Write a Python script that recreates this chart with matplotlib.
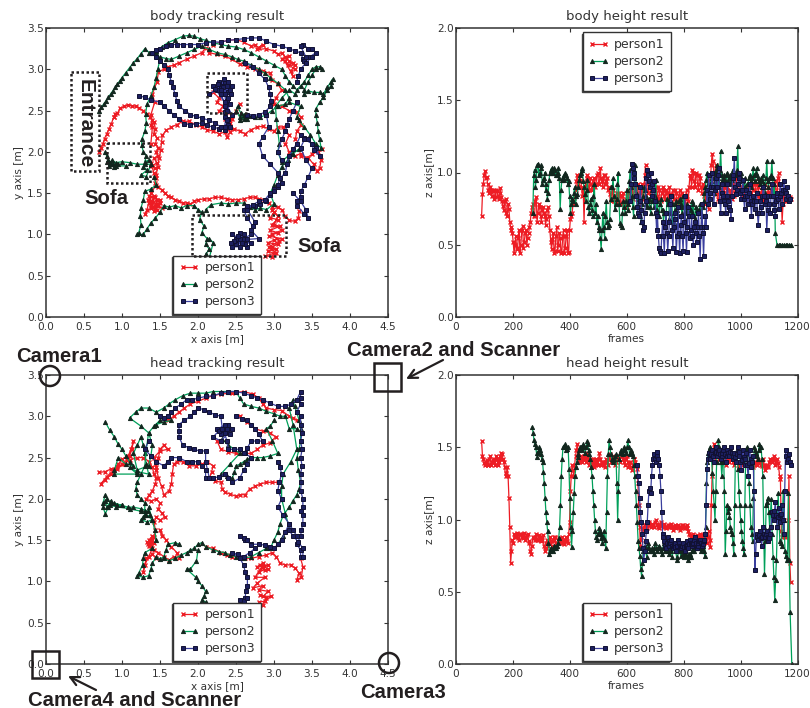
# tracking results, 4 panels

import numpy as np
import matplotlib
matplotlib.use("Agg")
import matplotlib.pyplot as plt
from matplotlib.patches import Rectangle, Circle

# ================================
# 1. Data
# ================================

names = ["person1", "person2", "person3"]

# body tracks, one list per stroke
body_p1_a = [(.70,2.0),(.72,2.05),(.75,2.1),(.77,2.16),(.80,2.22),(.83,2.28),(.86,2.34),(.89,2.42),(.91,2.46),(.90,2.42),(.94,2.47),(.98,2.53),(1.03,2.55),(1.08,2.57),(1.13,2.56),(1.18,2.55),(1.23,2.53),(1.28,2.5),(1.33,2.46),(1.37,2.42),(1.4,2.38),(1.38,2.32),(1.42,2.36),(1.44,2.28),(1.42,2.22),(1.46,2.17),(1.44,2.1),(1.48,2.05),(1.45,2.0),(1.47,1.95),(1.42,1.92),(1.46,1.87),(1.4,1.83),(1.44,1.8),(1.38,1.87),(1.42,1.74),(1.45,1.68),(1.44,1.62),(1.48,1.58),(1.52,1.54),(1.56,1.5),(1.6,1.47),(1.65,1.45),(1.7,1.42),(1.75,1.4),(1.8,1.38),(1.85,1.38),(1.9,1.37),(1.95,1.4),(2.0,1.42),(2.08,1.43),(2.15,1.43),(2.22,1.45),(2.3,1.45),(2.38,1.43),(2.45,1.42),(2.53,1.42),(2.6,1.43),(2.68,1.45),(2.75,1.45),(2.8,1.43),(2.87,1.42),(2.93,1.38),(2.98,1.33),(3.0,1.27)]
body_p1_b = [(3.0,1.27),(2.95,1.2),(3.05,1.18),(2.97,1.12),(3.08,1.1),(2.95,1.05),(3.05,1.02),(2.93,.98),(3.1,.95),(3.0,.93),(2.92,.9),(3.05,.88),(2.97,.85),(3.03,.82),(2.92,.8),(3.0,.77),(2.88,.74),(2.97,.73),(3.02,.78),(2.93,.85),(3.07,.92),(2.97,1.0),(3.1,1.05),(3.0,1.12),(3.05,1.22),(2.97,1.3),(3.05,1.33),(3.1,1.3),(3.15,1.22),(3.2,1.17),(3.27,1.16),(3.32,1.2),(3.33,1.28)]
body_p1_c = [(3.35,1.95),(3.45,1.93),(3.52,1.85),(3.56,1.77),(3.6,1.8),(3.62,1.9),(3.58,2.0),(3.63,2.03),(3.5,1.97),(3.42,1.92),(3.35,1.98),(3.28,1.95),(3.2,2.0),(3.15,2.1),(3.2,2.2),(3.12,2.3),(3.05,2.3),(3.0,2.25),(2.93,2.28),(2.85,2.31),(2.78,2.3),(2.7,2.27),(2.62,2.22),(2.55,2.25),(2.47,2.28),(2.42,2.24),(2.38,2.18),(2.35,2.24),(2.28,2.22),(2.2,2.25),(2.12,2.27),(2.05,2.3),(1.97,2.33),(1.88,2.37),(1.8,2.37),(1.72,2.33),(1.65,2.3),(1.58,2.26),(1.53,2.2),(1.52,2.12),(1.51,2.02),(1.49,1.93),(1.47,1.82),(1.45,1.72)]
body_p1_d = [(1.45,1.6),(1.38,1.5),(1.33,1.3),(1.3,1.25),(1.38,1.32),(1.34,1.42),(1.42,1.47),(1.38,1.36),(1.46,1.42),(1.42,1.28),(1.5,1.38),(1.44,1.35),(1.52,1.32),(1.4,1.4),(1.46,1.3),(1.36,1.38),(1.44,1.45),(1.48,1.34),(1.4,1.33),(1.36,1.46),(1.5,1.42)]
body_p1_e = [(1.38,2.1),(1.4,2.3),(1.38,2.45),(1.43,2.6),(1.4,2.7),(1.46,2.85),(1.48,2.97),(1.55,3.0),(1.6,3.03),(1.68,3.05),(1.75,3.08),(1.85,3.12),(1.95,3.16),(2.05,3.2),(2.1,3.26),(2.15,3.2),(2.25,3.18),(2.35,3.16),(2.45,3.12),(2.55,3.06),(2.65,3.03),(2.75,3.0),(2.85,2.98),(2.95,2.95),(2.98,2.87),(3.05,2.82),(3.1,2.75),(3.02,2.65),(3.0,2.58),(3.1,2.55),(3.2,2.5),(3.3,2.48),(3.35,2.42),(3.35,2.32),(3.3,2.25),(3.28,2.15)]
body_p1_f = [(2.2,3.3),(2.3,3.33),(2.4,3.35),(2.5,3.36),(2.6,3.33),(2.7,3.28),(2.75,3.3),(2.8,3.26),(2.85,3.3),(2.78,3.24),(2.9,3.25),(3.0,3.22),(3.05,3.18),(3.1,3.2),(3.15,3.15),(3.2,3.1),(3.25,3.08),(3.18,3.05),(3.28,3.05),(3.22,2.98),(3.25,2.92),(3.14,3.1),(3.2,3.16),(3.1,3.13),(3.27,3.0)]
body_p1_g = [(2.2,2.72),(2.28,2.65),(2.25,2.6),(2.33,2.55),(2.28,2.5),(2.38,2.48),(2.35,2.4),(2.42,2.35),(2.4,2.28),(2.45,2.4),(2.5,2.5),(2.55,2.58)]
body_p1 = [body_p1_a, body_p1_b, body_p1_c, body_p1_d, body_p1_e, body_p1_f, body_p1_g]

body_p2_a = [(.70,2.5),(.73,2.54),(.76,2.58),(.79,2.62),(.82,2.66),(.85,2.7),(.88,2.74),(.91,2.78),(.94,2.82),(.97,2.86),(1.0,2.9),(1.05,2.96),(1.1,3.02),(1.15,3.08),(1.2,3.13),(1.25,3.19),(1.3,3.25),(1.36,3.2),(1.41,3.2),(1.45,3.22),(1.5,3.12),(1.47,3.0),(1.45,2.9),(1.42,2.78),(1.38,2.68),(1.33,2.58),(1.31,2.46),(1.32,2.35),(1.3,2.25),(1.26,2.15),(1.26,2.08),(1.28,2.0),(1.32,1.95),(1.3,1.88),(1.35,1.9),(1.28,1.82),(1.33,1.78),(1.25,1.72),(1.32,1.7),(1.38,1.85),(1.3,1.85),(1.2,1.85),(1.1,1.87),(1.0,1.88),(.92,1.87),(.85,1.85),(.8,1.95),(.78,2.0),(.82,1.9),(.88,1.85),(.83,1.83),(.9,1.82),(.8,1.88),(.95,1.85),(.87,1.9),(.84,1.87),(.92,1.83),(1.05,1.83)]
body_p2_b = [(1.42,1.7),(1.45,1.6),(1.38,1.55),(1.3,1.52),(1.28,1.42),(1.25,1.32),(1.24,1.22),(1.25,1.12),(1.22,1.02),(1.2,1.0),(1.28,1.0),(1.33,1.07),(1.38,1.14),(1.44,1.2),(1.5,1.27),(1.55,1.35),(1.62,1.33),(1.7,1.35),(1.78,1.32),(1.85,1.35),(1.95,1.35),(2.0,1.3),(2.05,1.27),(2.02,1.18),(2.08,1.1),(2.05,1.02),(2.12,.95),(2.1,.88),(2.15,.82),(2.1,.76),(2.15,.72),(2.2,.9),(2.15,.95)]
body_p2_c = [(2.1,1.3),(2.17,1.36),(2.3,1.38),(2.4,1.37),(2.5,1.38),(2.6,1.38),(2.68,1.33),(2.75,1.3),(2.82,1.32),(2.9,1.3),(3.0,1.37),(2.95,1.5),(3.0,1.6),(3.05,1.72),(3.1,1.82),(3.18,1.9),(3.25,1.98),(3.33,2.03),(3.22,1.98),(3.1,1.88),(3.05,2.0),(3.07,2.1),(3.05,2.25),(3.03,2.4),(3.02,2.55),(3.1,2.65),(3.2,2.75),(3.28,2.7)]
body_p2_d = [(1.45,3.2),(1.52,3.27),(1.6,3.32),(1.7,3.36),(1.8,3.4),(1.88,3.41),(1.95,3.4),(2.03,3.37),(2.1,3.35),(2.2,3.32),(2.3,3.3),(2.4,3.28),(2.5,3.27),(2.6,3.24),(2.7,3.2),(2.8,3.15),(2.9,3.1),(3.0,3.05),(3.1,3.0),(3.15,2.92),(3.2,2.85),(3.25,2.8),(3.3,2.75),(3.35,2.8),(3.4,2.85),(3.45,2.93),(3.5,3.0),(3.55,3.03),(3.6,3.03),(3.63,3.0),(3.55,3.0),(3.5,2.93),(3.45,2.85),(3.4,2.75),(3.4,2.7),(3.45,2.74),(3.52,2.72),(3.6,2.72),(3.65,2.7),(3.7,2.78),(3.75,2.85),(3.77,2.88),(3.75,2.8),(3.7,2.75),(3.65,2.66),(3.6,2.6),(3.55,2.52),(3.55,2.45),(3.57,2.35),(3.58,2.25),(3.6,2.15),(3.62,2.05),(3.55,2.1),(3.48,2.2),(3.4,2.3),(3.33,2.38),(3.3,2.42),(3.35,2.55),(3.2,2.6)]
body_p2_e = [(1.5,3.15),(1.58,3.13),(1.65,3.12),(1.75,3.16),(1.85,3.2),(1.95,3.24),(2.05,3.28),(2.15,3.24),(2.25,3.2),(2.35,3.18),(2.45,3.15),(2.52,3.12),(2.6,3.1),(2.7,3.05),(2.8,3.0),(2.88,2.95),(2.95,2.9),(3.05,2.83),(3.15,2.75),(3.2,2.65),(3.15,2.58),(3.05,2.55),(2.97,2.5),(2.9,2.45),(2.82,2.42),(2.75,2.42),(2.68,2.44),(2.6,2.45),(2.55,2.42),(2.5,2.5),(2.52,2.55),(2.6,2.4),(2.65,2.4),(2.57,2.47),(2.63,2.44),(2.55,2.38)]
body_p2 = [body_p2_a, body_p2_b, body_p2_c, body_p2_d, body_p2_e]

body_p3_a = [(1.22,2.68),(1.3,2.66),(1.38,2.63),(1.5,2.6),(1.55,2.55),(1.62,2.5),(1.68,2.45),(1.75,2.4),(1.82,2.34),(1.9,2.33),(1.98,2.34),(2.05,2.35),(2.12,2.32),(2.2,2.3),(2.28,2.28),(2.35,2.27),(2.4,2.33),(2.4,2.4),(2.35,2.48),(2.35,2.55),(2.38,2.62),(2.4,2.72),(2.35,2.85),(2.25,2.75),(2.15,2.7),(2.3,2.8),(2.4,2.85),(2.2,2.8),(2.35,2.6),(2.45,2.45),(2.35,2.3),(2.4,2.65),(2.3,2.7),(2.45,2.8),(2.28,2.85),(2.36,2.7),(2.33,2.78),(2.42,2.75),(2.26,2.82),(2.38,2.5),(2.42,2.58),(2.35,2.42),(2.38,2.8),(2.3,2.75),(2.44,2.7),(2.22,2.76),(2.34,2.88),(2.38,2.38),(2.42,2.3)]
body_p3_b = [(2.3,2.3),(2.22,2.35),(2.15,2.38),(2.05,2.41),(1.97,2.43),(1.9,2.45),(1.83,2.5),(1.75,2.55),(1.72,2.62),(1.7,2.7),(1.67,2.78),(1.65,2.85),(1.62,2.93),(1.6,3.0),(1.55,3.05),(1.5,3.1),(1.45,3.15),(1.4,3.2),(1.45,3.23),(1.5,3.25),(1.58,3.28),(1.65,3.3),(1.72,3.3),(1.8,3.3),(1.9,3.3),(2.0,3.3),(2.1,3.32),(2.2,3.33),(2.3,3.33),(2.4,3.35),(2.5,3.36),(2.6,3.37),(2.7,3.38),(2.8,3.38),(2.9,3.34),(3.0,3.3),(3.1,3.28),(3.2,3.25),(3.28,3.22),(3.35,3.2),(3.38,3.13),(3.4,3.1),(3.47,3.15),(3.55,3.2),(3.5,3.25),(3.45,3.25),(3.38,3.3),(3.35,3.28),(3.42,3.15),(3.5,3.15),(3.42,3.08),(3.35,3.0),(3.32,2.92),(3.3,2.85)]
body_p3_c = [(3.3,2.6),(3.25,2.5),(3.2,2.4),(3.17,2.32),(3.15,2.25),(3.1,2.15),(3.05,2.0),(3.1,1.9)]
body_p3_d = [(2.9,2.45),(2.93,2.3),(2.85,2.18),(2.8,2.1),(2.85,1.95),(2.95,1.85),(3.05,1.75),(3.1,1.62),(3.05,1.58),(3.0,1.55),(2.95,1.48),(2.9,1.4),(2.82,1.37),(2.75,1.35),(2.65,1.35),(2.6,1.3),(2.65,1.2),(2.72,1.1),(2.7,1.0),(2.6,.95),(2.55,.85),(2.45,.85),(2.55,.95),(2.45,1.0),(2.65,.85),(2.6,1.0),(2.5,.95),(2.7,.9),(2.5,.88),(2.55,1.02),(2.62,.88),(2.48,.92),(2.58,.9),(2.52,.98),(2.43,.9),(2.65,.94),(2.8,.95),(2.7,1.05),(2.75,1.15),(2.65,1.3),(2.72,1.36),(2.8,1.4),(2.88,1.42),(2.95,1.5),(3.0,1.53),(3.05,1.6),(3.08,1.68),(3.15,1.75),(3.17,1.85),(3.2,1.95),(3.25,2.03),(3.3,2.1),(3.35,2.2),(3.4,2.17),(3.45,2.15),(3.5,2.1),(3.55,2.05),(3.6,1.95),(3.52,2.02),(3.5,2.1),(3.4,2.15),(3.35,2.05),(3.42,1.9),(3.5,1.8),(3.45,1.7),(3.4,1.6),(3.35,1.52),(3.35,1.45),(3.3,1.4),(3.3,1.35),(3.4,1.25),(3.45,1.2),(3.42,1.3),(3.35,1.4),(3.25,1.5)]
body_p3_e = [(2.62,3.08),(2.72,3.03),(2.8,2.95),(2.88,2.88),(2.93,2.78),(2.95,2.7),(2.96,2.62),(2.95,2.55),(2.88,2.48),(2.8,2.45),(2.72,2.44),(2.65,2.45)]
body_p3 = [body_p3_a, body_p3_b, body_p3_c, body_p3_d, body_p3_e]

# head tracks
head_p1_a = [(.7,2.32),(.78,2.33),(.85,2.36),(.93,2.38),(1.0,2.42),(1.06,2.47),(1.1,2.52),(1.13,2.6),(1.15,2.7),(1.12,2.6),(1.08,2.52),(1.0,2.48),(.95,2.42),(.88,2.34),(.8,2.27),(.72,2.18),(.78,2.23),(.86,2.3),(.93,2.36),(1.02,2.42),(1.1,2.47),(1.2,2.5),(1.28,2.5),(1.36,2.45),(1.4,2.38),(1.42,2.3),(1.45,2.25),(1.44,2.18),(1.4,2.1),(1.36,2.05),(1.32,2.0),(1.38,1.97),(1.45,2.0),(1.5,1.95),(1.48,1.88),(1.52,1.83),(1.56,1.78),(1.5,1.74),(1.45,1.78),(1.42,1.72),(1.44,1.62),(1.42,1.54),(1.38,1.48),(1.34,1.45),(1.38,1.42),(1.42,1.46),(1.35,1.5),(1.4,1.55),(1.36,1.43),(1.33,1.48),(1.4,1.5),(1.37,1.45),(1.42,1.38),(1.48,1.35),(1.55,1.3),(1.62,1.26),(1.68,1.3),(1.75,1.28),(1.72,1.35),(1.65,1.42),(1.58,1.5),(1.5,1.62),(1.52,1.55)]
head_p1_b = [(1.4,1.4),(1.35,1.3),(1.3,1.2),(1.28,1.12),(1.32,1.28),(1.4,1.33),(1.45,1.28)]
head_p1_c = [(2.1,1.42),(2.2,1.4),(2.3,1.35),(2.38,1.32),(2.45,1.3),(2.55,1.3),(2.62,1.28),(2.7,1.28),(2.8,1.3),(2.9,1.32),(2.98,1.35),(3.03,1.3),(3.08,1.22),(3.15,1.2),(3.22,1.2),(3.28,1.16),(3.33,1.1),(3.3,1.02),(3.36,1.05),(3.38,1.18),(3.35,1.28)]
head_p1_d = [(2.85,1.22),(2.78,1.18),(2.92,1.2),(2.8,1.12),(2.92,1.15),(2.82,1.2),(2.88,1.14),(2.84,1.18),(2.75,1.05),(2.88,1.05),(2.78,.98),(2.72,.92),(2.85,.95),(2.8,.9),(2.92,.88),(2.86,.82),(2.96,.82),(2.88,.76),(2.8,.75),(2.85,.72),(2.9,.8),(2.82,.84)]
head_p1_e = [(3.05,2.2),(2.97,2.2),(2.9,2.2),(2.82,2.18),(2.75,2.15),(2.68,2.12),(2.62,2.05),(2.55,2.05),(2.5,2.03),(2.42,2.06),(2.35,2.08),(2.32,2.12),(2.3,2.2),(2.22,2.22),(2.15,2.25),(2.18,2.33),(2.2,2.4),(2.12,2.45),(2.05,2.42),(1.97,2.4),(1.88,2.4),(1.8,2.45),(1.72,2.45),(1.68,2.42),(1.66,2.3),(1.65,2.18),(1.62,2.1),(1.55,2.05),(1.52,2.15),(1.48,2.25),(1.45,2.38),(1.48,2.5),(1.5,2.6),(1.55,2.65),(1.6,2.6),(1.5,2.58),(1.42,2.5),(1.45,2.35)]
head_p1_f = [(1.6,2.95),(1.68,3.0),(1.75,3.05),(1.82,3.1),(1.9,3.15),(2.0,3.18),(2.1,3.22),(2.2,3.25),(2.3,3.27),(2.45,3.28),(2.6,3.3),(2.72,3.27),(2.8,3.22),(2.85,3.15),(2.9,3.1),(3.0,3.08),(3.1,3.07),(3.2,3.0),(3.25,2.98),(3.3,2.95)]
head_p1_g = [(2.55,3.0),(2.65,2.93),(2.75,2.85),(2.85,2.82),(2.95,2.8),(3.02,2.75),(2.95,2.68),(2.85,2.65),(2.78,2.6),(2.7,2.55),(2.6,2.55),(2.5,2.55),(2.4,2.57),(2.3,2.6),(2.25,2.7)]
head_p1 = [head_p1_a, head_p1_b, head_p1_c, head_p1_d, head_p1_e, head_p1_f, head_p1_g]

head_p2_a = [(.78,2.93),(.84,2.83),(.9,2.75),(.95,2.66),(1.0,2.6),(1.05,2.52),(1.1,2.45),(1.15,2.4),(1.05,2.42),(.95,2.5),(.9,2.35),(.9,2.3),(1.2,2.3),(1.1,2.38),(1.2,2.33),(1.35,2.3),(1.32,2.42),(1.3,2.55),(1.28,2.65),(1.25,2.75),(1.2,2.65),(1.15,2.55),(1.2,2.35),(1.35,2.4),(1.38,2.52),(1.4,2.65),(1.35,2.8),(1.25,2.88),(1.1,2.98),(1.18,3.05),(1.25,3.1),(1.35,3.1),(1.45,3.05),(1.55,3.1),(1.62,3.15),(1.7,3.2),(1.8,3.25),(1.9,3.28),(2.0,3.28),(2.1,3.28),(2.2,3.3),(2.3,3.3),(2.4,3.3),(2.5,3.3),(2.55,3.22),(2.6,3.15),(2.7,3.12),(2.8,3.1),(2.9,3.06),(3.0,3.03),(3.08,3.0),(3.15,3.0),(3.2,2.85),(3.3,2.85)]
head_p2_b = [(3.0,2.95),(2.95,2.88),(2.9,2.85),(2.98,2.7),(3.05,2.55),(2.95,2.52),(2.85,2.5),(2.78,2.5),(2.7,2.5),(2.65,2.48),(2.6,2.45),(2.55,2.42),(2.5,2.4),(2.48,2.32),(2.45,2.25),(2.38,2.28),(2.3,2.3),(2.42,2.42),(2.55,2.55),(2.48,2.6),(2.4,2.65),(2.32,2.72)]
head_p2_c = [(1.65,2.95),(1.55,2.93),(1.45,2.9),(1.5,2.95),(1.42,2.88),(1.35,2.8),(1.32,2.6),(1.3,2.4),(1.25,2.3),(1.2,2.2),(1.18,2.12),(1.2,2.05),(1.25,2.0),(1.3,1.95),(1.3,1.85),(1.3,1.8),(1.25,1.75),(1.33,1.72),(1.4,1.75),(1.35,1.9),(1.37,1.8),(1.28,1.78),(1.34,1.85),(1.25,1.88),(1.15,1.9),(1.08,1.9),(1.0,1.92),(.93,1.93),(.85,1.95),(.8,2.0),(.78,2.05),(.75,1.95),(.75,1.9),(.78,1.82),(.82,1.9),(.85,1.98),(.92,1.9),(1.0,1.92),(.9,1.95),(.8,1.9),(.78,1.97),(.84,1.92),(1.1,1.88),(1.25,1.85),(1.32,1.8),(1.4,1.75),(1.43,1.62),(1.45,1.5)]
head_p2_d = [(1.4,1.4),(1.3,1.35),(1.28,1.28),(1.27,1.2),(1.22,1.1),(1.2,1.07),(1.28,1.05),(1.35,1.07),(1.38,1.15),(1.4,1.22),(1.45,1.3),(1.5,1.27),(1.55,1.3),(1.58,1.38),(1.6,1.45),(1.7,1.47),(1.75,1.45)]
head_p2_e = [(1.55,1.28),(1.62,1.25),(1.7,1.28),(1.78,1.32),(1.85,1.35),(1.9,1.38),(1.95,1.4),(2.0,1.45),(2.05,1.47),(2.1,1.42),(2.2,1.38),(2.28,1.36),(2.35,1.35),(2.42,1.32),(2.5,1.3),(2.6,1.28),(2.7,1.3),(2.8,1.35),(2.9,1.4)]
head_p2_f = [(2.0,1.38),(1.98,1.25),(1.9,1.15),(1.85,1.15),(1.97,1.05),(2.0,1.0),(2.05,.95),(2.1,.88),(2.08,.82),(2.05,.78),(2.1,.75),(2.15,.72)]
head_p2_g = [(2.95,1.4),(3.0,1.5),(3.05,1.6),(3.08,1.7),(3.12,1.8),(3.2,1.9),(3.25,1.98),(3.3,2.05),(3.33,2.12),(3.35,2.2),(3.32,2.35),(3.3,2.5),(3.33,2.6),(3.35,2.7),(3.35,2.85),(3.33,2.95),(3.3,3.05),(3.27,3.12),(3.25,3.2),(3.2,3.1),(3.25,2.9),(3.3,2.6),(3.22,2.45),(3.12,2.3),(3.1,2.15),(3.1,2.0),(3.15,1.82),(3.2,1.65),(3.12,1.55),(3.05,1.45)]
head_p2 = [head_p2_a, head_p2_b, head_p2_c, head_p2_d, head_p2_e, head_p2_f, head_p2_g]

head_p3_a = [(1.35,2.7),(1.3,2.6),(1.38,2.52),(1.45,2.45),(1.55,2.4),(1.6,2.45),(1.65,2.5),(1.75,2.5),(1.85,2.45),(1.92,2.45),(2.0,2.45),(2.05,2.4),(2.1,2.35),(2.1,2.25),(2.2,2.25),(2.28,2.27),(2.35,2.3),(2.4,2.25),(2.45,2.2),(2.55,2.25),(2.6,2.35),(2.65,2.42),(2.7,2.5),(2.62,2.55),(2.55,2.6),(2.48,2.6),(2.4,2.6),(2.38,2.7),(2.35,2.8),(2.25,2.85),(2.4,2.9),(2.45,2.85),(2.3,2.7),(2.2,2.75),(2.35,2.9),(2.3,2.78),(2.38,2.85),(2.28,2.82),(2.42,2.78),(2.32,2.85),(2.3,3.0),(2.22,3.02),(2.15,3.05),(2.08,3.08),(2.0,3.1),(1.95,3.05),(1.9,3.0),(1.82,2.95),(1.75,2.9),(1.75,2.82),(1.75,2.75),(1.8,2.65),(1.88,2.62),(1.95,2.6),(2.02,2.58),(2.1,2.58),(2.1,2.45),(2.15,2.25)]
head_p3_b = [(1.5,3.0),(1.55,2.98),(1.6,3.0),(1.65,3.05),(1.7,3.1),(1.78,3.15),(1.85,3.2),(1.92,3.2),(2.0,3.22),(2.1,3.24),(2.2,3.25),(2.3,3.28),(2.4,3.3),(2.5,3.3),(2.6,3.28),(2.7,3.25),(2.78,3.22),(2.85,3.2),(2.95,3.16),(3.05,3.12),(3.15,3.12),(3.23,3.15),(3.3,3.2),(3.35,3.3),(3.35,3.22),(3.35,3.15),(3.3,3.05),(3.35,3.0),(3.35,2.9),(3.37,2.8),(3.35,2.7),(3.37,2.6),(3.35,2.5),(3.37,2.4),(3.35,2.3),(3.36,2.2),(3.35,2.1),(3.38,2.0),(3.38,1.9),(3.36,1.85),(3.38,1.8),(3.38,1.7),(3.36,1.62),(3.35,1.55),(3.3,1.45),(3.35,1.38),(3.35,1.3),(3.38,1.3),(3.38,1.4),(3.32,1.48),(3.25,1.55),(3.2,1.62),(3.2,1.7),(3.15,1.6),(3.1,1.5),(3.05,1.45),(3.0,1.4),(2.95,1.42),(2.88,1.44),(2.8,1.45),(2.7,1.45),(2.62,1.5),(2.55,1.55),(2.6,1.53),(2.65,1.5),(2.7,1.44),(2.75,1.4),(2.68,1.35),(2.6,1.3),(2.52,1.33),(2.45,1.35),(2.55,1.28),(2.6,1.2),(2.62,1.12),(2.65,1.05),(2.65,.95),(2.63,.88),(2.62,.8),(2.55,.78),(2.6,.76),(2.65,.8)]
head_p3_c = [(3.05,2.45),(3.08,2.38),(3.1,2.3),(3.07,2.2),(3.05,2.1),(3.1,2.0),(3.05,1.9),(3.12,1.8),(3.2,1.7),(3.25,1.62),(3.3,1.55)]
head_p3_d = [(2.5,3.0),(2.58,2.97),(2.65,2.95),(2.7,2.9),(2.75,2.85),(2.8,2.78),(2.85,2.7),(2.78,2.7),(2.7,2.7),(2.65,2.62),(2.6,2.55)]
head_p3 = [head_p3_a, head_p3_b, head_p3_c, head_p3_d]

# heights, one value every 6 frames from the start frame
body_p1_start = 90
body_p1_z = [.70,.92,1.01,.97,.88,.90,.84,.88,.83,.87,.82,.89,.80,.74,.82,.70,.75,.62,.58,.44,
 .56,.47,.60,.50,.63,.52,.60,.55,.62,.72,.78,.70,.83,.72,.76,.66,.76,.70,.68,.76,
 .60,.47,.58,.46,.62,.50,.55,.45,.60,.48,.60,.45,.68,.72,.80,.88,.98,.90,.95,.84,
 .66,.92,.96,.88,.92,.90,.96,.92,1.00,.92,.96,.90,.98,.94,.88,.85,.80,.88,.82,.86,
 .80,.84,.78,.86,.80,.76,.88,.82,.92,.84,.90,.84,.90,.76,.92,.82,1.05,.88,.95,.84,
 .88,.82,.90,.84,.88,.80,.90,.84,.88,.80,.90,.78,.88,.82,.86,.78,.88,.80,.84,.78,
 .88,.80,.98,.90,1.00,.90,.98,.88,.96,.86,.90,.78,.84,.75,.95,1.13,1.00,1.05,.85,.80,
 .92,.84,.90,.82,.88,.80,.86,.92,.84,.96,.88,.98,.84,.92,.86,.82,.90,.84,.92,.88,
 .94,.84,.90,.82,.88,.80,.92,.84,.90,.86,.92,.84,.94,.82,1.00,.88,.66,.86,.80,.84,.82,.82]
# same series, the samples between those (3 frames later)
body_p1_z2 = [.85,.98,.96,.92,.86,.88,.87,.82,.88,.84,.86,.83,.77,.80,.72,.78,.66,.60,.52,.50,
 .48,.55,.44,.60,.48,.58,.50,.58,.66,.76,.70,.80,.66,.78,.70,.74,.72,.64,.74,.70,
 .52,.54,.44,.56,.46,.58,.44,.56,.44,.56,.44,.60,.70,.78,.84,.94,.92,.98,.90,.88,
 .90,.98,.90,.96,.88,.94,.90,.98,.92,1.03,.94,.98,.92,.96,.90,.82,.86,.80,.84,.78,
 .86,.78,.84,.76,.82,.86,.80,.88,.82,.90,.86,.92,.80,.86,.88,.98,.92,.86,.90,.88,
 .84,.88,.82,.90,.82,.86,.88,.82,.86,.82,.85,.84,.82,.88,.80,.84,.82,.86,.80,.84,
 .82,.90,.96,1.02,.94,1.0,.92,.98,.90,.92,.84,.86,.80,.90,1.05,1.08,.95,.90,.82,.88,
 .86,.88,.84,.90,.82,.88,.82,.90,.86,.92,.92,.88,.90,.88,.84,.86,.88,.86,.90,.92,
 .86,.92,.84,.86,.82,.88,.82,.86,.84,.88,.88,.90,.86,.96,.92,.84,.78,.84,.82,.80,.83]

body_p2_start = 270
body_p2_z = [.72,1.02,.95,1.06,1.0,1.05,.95,1.0,.92,.86,1.0,1.03,1.0,1.02,.98,1.03,.75,.95,.98,1.0,
 .96,.94,.72,.82,.86,.78,.85,.95,1.0,1.03,.90,.80,.95,.72,.82,.70,.92,.78,.70,.60,
 .47,.72,.55,.80,.62,.68,.90,.96,.75,.82,1.0,.65,.62,.80,.72,.88,.78,1.02,.84,.70,
 1.05,.85,.82,.70,.78,.90,.84,.76,.82,.72,.88,.76,.95,.80,.70,.82,.74,.72,.66,.78,
 .68,.80,.62,.74,.80,.70,.82,.76,.84,.68,.78,.72,.70,.80,.78,.68,.74,.72,.78,.70,
 .80,.90,1.0,.84,.92,.96,.86,1.0,1.05,.90,1.15,.94,.98,.92,1.0,.96,.92,1.02,.98,1.0,
 1.18,.94,1.0,.90,.96,.84,.92,.98,.90,1.03,.94,1.03,.96,.92,.90,.98,.86,1.08,.90,.96,
 1.08,.84,.58,.50,.50,.50,.50,.50,.50,.50,.50,.50]
body_p2_z2 = [.98,.90,1.05,.98,1.03,.92,.96,.88,.82,.95,1.02,1.0,1.03,.98,1.0,.96,.88,.97,.95,.98,
 .92,.84,.78,.80,.90,.84,.90,.98,1.02,.94,.85,.88,.76,.78,.74,.84,.72,.66,.62,.55,
 .60,.62,.70,.66,.64,.82,.90,.84,.78,.92,.78,.64,.72,.76,.80,.74,.94,.90,.76,.96,
 .92,.78,.74,.66,.84,.88,.78,.80,.76,.80,.80,.84,.74,.70,.78,.74,.66,.72,.82,.80,
 .72,.78,.66,.78,.74,.80,.78,.72,.76,.72,.74,.76,.74,.72,.70,.76,.72,.74,.72,.76,
 .86,.95,.92,.90,.98,.90,.94,1.02,.96,1.02,.98,.96,.95,.98,.94,.98,.95,.96,.98,1.02,
 .96,.98,.94,.88,.90,.92,.96,.94,.96,.98,1.0,.98,.94,.96,.94,.92,.96,.94,.96,.98,.96,.92]

body_p3_start = 612
body_p3_z = [.80,1.06,1.0,.92,.76,.70,.90,.66,.62,.80,1.02,.94,1.0,.84,.94,.72,.70,.48,.44,.66,
 .44,.72,.46,.66,.84,.48,.72,.45,.76,.44,.70,.46,.84,.45,.76,.55,.70,.50,.66,.52,
 .72,.40,.78,.42,.70,.88,.98,.82,1.0,.78,.96,.90,1.03,.72,.92,.80,.72,.92,.76,.68,
 .96,1.1,.85,.92,1.0,.82,.95,.75,.88,.78,.92,.70,.84,.75,.86,.64,.80,.72,.90,.78,
 .60,.84,.72,.92,.78,.70,.86,.75,.92,.78,.94,.82,.90,.80]
body_p3_z2 = [.92,1.03,.96,.84,.72,.80,.74,.60,.72,.96,.98,.90,.92,.88,.80,.60,.56,.46,.56,.56,
 .62,.58,.56,.78,.60,.62,.68,.56,.58,.64,.56,.66,.58,.62,.70,.60,.56,.62,.58,.62,
 .56,.62,.58,.62,.62,.78,.86,.90,.90,.88,.90,.98,.80,.86,.84,.78,.84,.80,.74,.84,
 .98,.90,.88,.96,.86,.88,.82,.84,.84,.86,.80,.78,.80,.80,.72,.72,.76,.84,.84,.80,
 .74,.78,.84,.84,.74,.80,.82,.84,.86,.88,.88,.86,.84,.82]

head_p1_start = 90
head_p1_z = [1.54,1.42,1.38,1.41,1.38,1.44,1.40,1.42,1.38,1.42,1.40,1.44,1.45,1.40,1.30,1.36,1.15,.70,.86,.90,
 .88,.91,.86,.90,.87,.91,.88,.90,.84,.76,.88,.86,.90,.86,.88,.85,.89,.78,.84,.82,
 .88,.82,.86,.88,.82,.86,.84,.88,.83,.86,.85,.90,1.20,1.38,1.30,1.44,1.52,1.40,1.44,1.40,
 1.44,1.40,1.46,1.38,1.42,1.40,1.36,1.42,1.38,1.46,1.38,1.40,1.36,1.42,1.38,1.45,1.40,1.44,1.38,1.42,
 1.44,1.40,1.46,1.42,1.38,1.44,1.36,1.40,1.34,1.42,1.40,1.35,1.10,.82,.94,.95,.96,.94,.98,.95,
 .97,.95,1.0,.96,.94,.98,.95,.97,.94,.96,.95,.97,.93,.96,.94,.96,.93,.95,.96,.94,
 .96,.92,.89,.87,.90,.87,.89,.86,.90,.87,.88,.90,.84,.92,.81,1.30,1.52,1.40,1.48,1.42,
 1.45,1.40,1.44,1.38,1.46,1.40,1.42,1.44,1.38,1.42,1.40,1.36,1.42,1.38,1.44,1.40,1.38,1.42,1.40,1.36,
 1.40,1.38,1.41,1.39,1.37,1.42,1.34,1.38,1.36,1.42,1.40,1.44,1.38,1.42,1.36,1.28,.88,.90,.88,.89,1.30,.57]
head_p1_z2 = [1.44,1.39,1.40,1.38,1.42,1.38,1.41,1.40,1.44,1.38,1.42,1.46,1.42,1.36,1.32,1.30,.95,.78,.84,.88,
 .90,.87,.90,.88,.90,.86,.89,.85,.78,.82,.87,.88,.86,.89,.86,.88,.82,.80,.86,.84,
 .85,.85,.88,.84,.84,.87,.85,.84,.85,.88,.84,.98,1.30,1.34,1.38,1.48,1.46,1.42,1.42,1.42,
 1.42,1.44,1.42,1.40,1.38,1.42,1.38,1.40,1.42,1.42,1.40,1.38,1.40,1.40,1.42,1.42,1.42,1.40,1.40,1.44,
 1.42,1.44,1.44,1.40,1.42,1.40,1.38,1.36,1.38,1.42,1.38,1.25,.95,.86,.90,.96,.95,.96,.96,.97,
 .96,.98,.97,.95,.96,.96,.96,.95,.95,.95,.96,.95,.95,.95,.95,.95,.94,.96,.95,.95,
 .94,.90,.88,.88,.88,.88,.87,.88,.88,.89,.89,.87,.88,.86,1.10,1.45,1.46,1.44,1.45,1.44,
 1.42,1.42,1.40,1.42,1.42,1.42,1.43,1.40,1.40,1.40,1.38,1.39,1.40,1.40,1.42,1.38,1.40,1.41,1.38,1.38,
 1.39,1.40,1.40,1.38,1.40,1.38,1.36,1.37,1.40,1.41,1.42,1.41,1.40,1.39,1.30,.92,.89,.88,.89,1.0,.70]

head_p2_start = 268
head_p2_z = [1.64,1.55,1.50,1.43,1.50,1.45,1.40,1.25,1.05,.92,.76,.80,.78,.82,.80,.84,.95,1.30,1.50,1.52,
 1.48,1.50,1.15,.81,1.05,1.30,1.40,1.45,1.50,1.48,1.52,1.46,1.54,1.48,1.42,1.30,1.10,.92,.86,.94,
 .90,.84,.92,.80,1.30,1.55,1.45,1.40,1.42,1.45,1.0,1.42,1.48,1.45,1.50,1.46,1.55,1.45,1.48,1.44,
 1.30,1.10,.85,.75,.61,.78,.82,.74,.84,.78,.80,.76,.84,.78,.82,.80,.76,.84,.78,.80,
 .76,.82,.74,.84,.78,.72,.82,.75,.80,.74,.78,.72,.76,.74,.80,.78,.82,.80,.84,.78,
 .82,.75,1.25,1.46,1.50,1.42,1.20,1.0,1.40,1.55,1.46,1.30,1.50,.76,1.10,1.08,.95,.90,.76,1.45,
 1.48,1.20,1.00,.85,.76,1.45,1.50,1.25,.95,.85,1.50,1.46,1.42,1.52,1.50,1.30,.62,1.10,1.15,.95,
 1.14,.74,.44,.72,1.18,.85,.82,1.20,.78,.72,1.18,.36,0.0]
head_p2_z2 = [1.60,1.52,1.46,1.47,1.48,1.42,1.33,1.15,.98,.84,.78,.79,.80,.81,.82,.87,1.10,1.42,1.51,1.50,
 1.49,1.35,.95,.92,1.18,1.36,1.43,1.48,1.50,1.50,1.50,1.50,1.52,1.45,1.36,1.20,1.0,.88,.90,.92,
 .87,.88,.86,1.05,1.45,1.50,1.42,1.41,1.44,1.25,1.20,1.46,1.46,1.48,1.48,1.50,1.50,1.46,1.46,1.38,
 1.20,.98,.80,.66,.70,.80,.78,.80,.80,.78,.78,.80,.80,.80,.80,.78,.80,.80,.80,.78,
 .79,.78,.80,.80,.74,.78,.78,.78,.76,.76,.75,.74,.76,.78,.80,.80,.82,.82,.80,.80,
 .78,.95,1.40,1.48,1.46,1.32,1.10,1.20,1.48,1.50,1.40,1.40,1.20,.92,1.05,1.02,.92,.84,1.10,1.46,
 1.35,1.10,.92,.80,1.10,1.48,1.38,1.10,.90,1.15,1.48,1.44,1.48,1.50,1.42,.95,.85,1.12,1.05,1.05,
 .90,.60,.58,.95,1.0,.84,1.0,1.0,.75,.72,.72]

head_p3_start = 636
head_p3_z = [1.38,1.25,1.05,.90,.72,.85,.98,1.2,1.18,1.38,1.45,1.40,1.47,1.38,1.20,.90,.85,.80,.88,.82,
 .86,.80,.84,.78,.86,.82,.80,.84,.78,.85,.80,.86,.82,.84,.88,.80,.84,.86,.82,.85,
 .90,1.35,1.46,1.42,1.48,1.40,1.50,1.44,1.48,1.42,1.46,1.50,1.40,1.48,1.44,1.50,1.42,1.46,1.40,1.50,
 1.44,1.34,1.48,1.38,1.46,1.30,1.48,1.36,1.44,.65,.90,.86,.92,.82,.95,.88,.92,.85,.90,1.05,
 1.00,1.12,.95,1.08,.98,1.10,.90,1.48,1.40,1.45,1.38]
head_p3_z2 = [1.30,1.15,.98,.80,.78,.92,1.10,1.22,1.30,1.42,1.42,1.44,1.42,1.30,1.05,.88,.82,.84,.85,.84,
 .82,.82,.81,.82,.84,.81,.82,.81,.82,.82,.83,.84,.83,.86,.84,.82,.85,.84,.83,.86,
 1.10,1.42,1.44,1.45,1.44,1.46,1.47,1.46,1.45,1.44,1.48,1.45,1.44,1.46,1.47,1.46,1.44,1.43,1.45,1.47,
 1.40,1.41,1.43,1.42,1.38,1.39,1.42,1.40,1.20,.76,.88,.89,.87,.88,.90,.90,.88,.87,.95,1.03,
 1.06,1.03,1.02,1.03,1.04,1.0,1.20,1.44,1.42,1.40]

# ================================
# 2. Styles and layout
# ================================

W, H = 810, 708
line_colors = ["#ed1c24", "#00a05a", "#3a3f9e"]
markers = ["x", "^", "s"]
marker_face = ["#ed1c24", "#12261e", "#1c1f5f"]
marker_edge = ["#ed1c24", "#12261e", "#111133"]
marker_size = [2.6, 3.0, 2.9]
marker_edge_width = [1.0, 0.7, 0.7]
gray = "#333333"

plt.rcParams["font.family"] = "DejaVu Sans"
plt.rcParams["font.size"] = 7.6
plt.rcParams["text.color"] = gray

fig = plt.figure(figsize=(W / 100, H / 100), dpi=100)


def make_axes(left, right, top, bottom, title, xlabel, ylabel, xlim, ylim, xticks, yticks):
    ax = fig.add_axes([left / W, 1 - bottom / H, (right - left) / W, (bottom - top) / H])
    ax.set_xlim(*xlim)
    ax.set_ylim(*ylim)
    ax.set_xticks(xticks)
    ax.set_yticks(yticks)
    ax.tick_params(direction="in", top=True, right=True, length=3, width=0.8, labelsize=7.6,
                   colors=gray, labelcolor=gray)
    ax.tick_params(axis="x", pad=3.5)
    ax.tick_params(axis="y", pad=1.5)
    for s in ax.spines.values():
        s.set_linewidth(1.1)
        s.set_color(gray)
    ax.set_title(title, fontsize=9.5, color=gray, pad=6)
    ax.set_xlabel(xlabel, fontsize=7.6, color=gray, labelpad=1.5)
    ax.set_ylabel(ylabel, fontsize=7.6, color=gray, labelpad=2)
    return ax


def draw_series(ax, i, x, y, label):
    ax.plot(x, y, color=line_colors[i], lw=0.9, marker=markers[i], ms=marker_size[i],
            mfc=marker_face[i], mec=marker_edge[i], mew=marker_edge_width[i], label=label)


def add_legend(ax, yfrac):
    leg = ax.legend(loc="center", bbox_to_anchor=(0.5, yfrac), numpoints=2, fontsize=9,
                    shadow=dict(ox=-0.9, oy=-0.9, color="#444444", alpha=1),
                    fancybox=False, framealpha=1, edgecolor=gray, labelspacing=0.32, borderpad=0.45,
                    handlelength=1.6, handletextpad=0.45, borderaxespad=0)
    leg.get_frame().set_linewidth(1.0)
    for t in leg.get_texts():
        t.set_color(gray)


xy_xticks = [0, .5, 1, 1.5, 2, 2.5, 3, 3.5, 4, 4.5]
xy_yticks = [0, .5, 1, 1.5, 2, 2.5, 3, 3.5]
z_xticks = [0, 200, 400, 600, 800, 1000, 1200]
z_yticks = [0, .5, 1, 1.5, 2]

ax1 = make_axes(46, 388, 28, 317, "body tracking result", "x axis [m]", "y axis [m]", (0, 4.5), (0, 3.5), xy_xticks, xy_yticks)
ax2 = make_axes(456, 797.5, 28, 317, "body height result", "frames", "z axis[m]", (0, 1200), (0, 2), z_xticks, z_yticks)
ax3 = make_axes(46, 388, 375, 664, "head tracking result", "x axis [m]", "y axis [m]", (0, 4.5), (0, 3.5), xy_xticks, xy_yticks)
ax4 = make_axes(456, 797.5, 375, 664, "head height result", "frames", "z axis[m]", (0, 1200), (0, 2), z_xticks, z_yticks)

for ax in [ax1, ax3]:
    ax.xaxis.set_major_formatter("{x:.1f}")
    ax.yaxis.set_major_formatter("{x:.1f}")
for ax in [ax2, ax4]:
    ax.yaxis.set_major_formatter("{x:.1f}")

# ================================
# 3. Draw the series
# ================================

for ax, series in [(ax1, [body_p1, body_p2, body_p3]), (ax3, [head_p1, head_p2, head_p3])]:
    for i, strokes in enumerate(series):
        for n, pts in enumerate(strokes):
            pts = np.array(pts)
            draw_series(ax, i, pts[:, 0], pts[:, 1], names[i] if n == 0 else None)

heights = [(ax2, [(body_p1_start, body_p1_z, body_p1_z2), (body_p2_start, body_p2_z, body_p2_z2), (body_p3_start, body_p3_z, body_p3_z2)]),
           (ax4, [(head_p1_start, head_p1_z, head_p1_z2), (head_p2_start, head_p2_z, head_p2_z2), (head_p3_start, head_p3_z, head_p3_z2)])]
for ax, series in heights:
    for i, (start, z, z2) in enumerate(series):
        f = np.concatenate([start + 6 * np.arange(len(z)), start + 3 + 6 * np.arange(len(z2))])
        v = np.concatenate([z, z2])
        order = np.argsort(f)
        draw_series(ax, i, f[order], v[order], names[i])

add_legend(ax1, 0.112)
add_legend(ax2, 0.884)
add_legend(ax3, 0.112)
add_legend(ax4, 0.112)

# ================================
# 4. Hand drawn notes on top
# ================================

over = fig.add_axes([0, 0, 1, 1], zorder=10)
over.set_xlim(0, W)
over.set_ylim(H, 0)
over.axis("off")
over.patch.set_alpha(0)

ink = "#231f20"
for x0, y0, x1, y1 in [(71, 72, 99, 171), (107, 143, 150, 183), (207, 73, 247, 113), (192, 215, 286, 256)]:
    over.add_patch(Rectangle((x0, y0), x1 - x0, y1 - y0, fill=False, ec=ink, lw=1.8, ls=(0, (1, 1))))

for x0, y0, x1, y1 in [(374, 363, 401, 391), (32, 651, 59, 678)]:
    over.add_patch(Rectangle((x0, y0), x1 - x0, y1 - y0, fill=False, ec=ink, lw=1.8))
for cx, cy in [(50, 376), (389, 663)]:
    over.add_patch(Circle((cx, cy), 10, fill=False, ec=ink, lw=1.8))

for start, end in [((443, 360), (406, 379)), ((96, 690), (68, 676))]:
    over.annotate("", xy=end, xytext=start, arrowprops=dict(arrowstyle="->", color=ink, lw=1.6, mutation_scale=16, shrinkA=0, shrinkB=0))

note = dict(family="Liberation Sans", weight="bold", color=ink, fontsize=14.6, va="center", ha="left")
over.text(84, 199, "Sofa", **note)
over.text(297, 247, "Sofa", **note)
over.text(16, 356, "Camera1", **note)
over.text(347, 351, "Camera2 and Scanner", **note)
over.text(360, 693, "Camera3", **note)
over.text(28, 700, "Camera4 and Scanner", **note)
over.text(85, 124, "Entrance", rotation=270, family="Liberation Sans", weight="bold", color=ink, fontsize=15, va="center", ha="center")

fig.savefig("out.png", dpi=100)
